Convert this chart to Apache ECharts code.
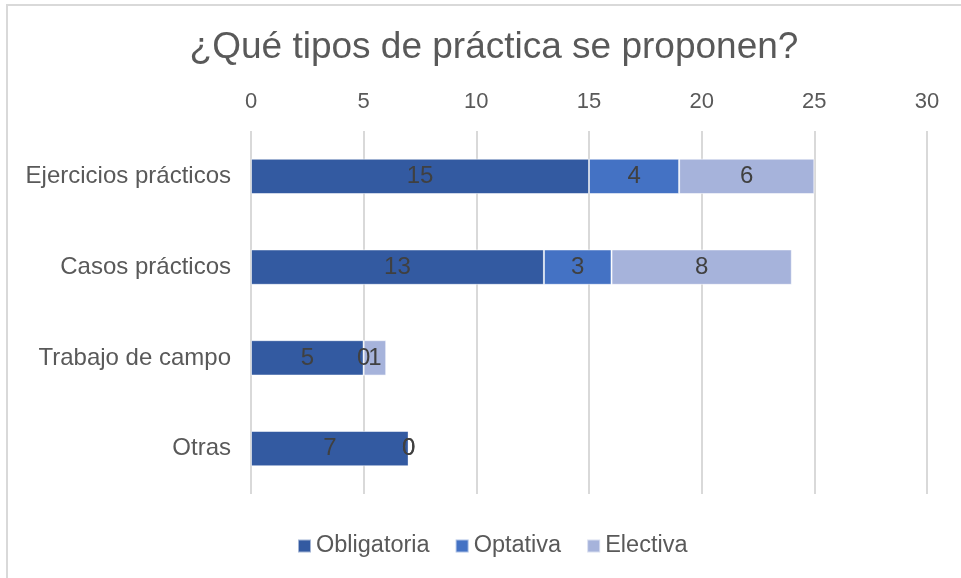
<!DOCTYPE html>
<html>
<head>
<meta charset="utf-8">
<script src="https://cdn.jsdelivr.net/npm/echarts@6/dist/echarts.min.js"></script>
<style>
  html, body { margin: 0; padding: 0; background: #fff; }
  #frame {
    position: absolute; left: 6px; top: 4px; width: 961px; height: 580px;
    border-left: 2px solid #d9d9d9; border-top: 2px solid #d9d9d9;
  }
  #chart { position: absolute; left: 0; top: 0; width: 961px; height: 578px; }
</style>
</head>
<body>
<div id="frame"></div>
<div id="chart"></div>
<script>
// datos
const categories = ['Ejercicios prácticos', 'Casos prácticos', 'Trabajo de campo', 'Otras']
const obligatoria = [15, 13, 5, 7]
const optativa = [4, 3, 0, 0]
const electiva = [6, 8, 1, 0]
const xTicks = [0, 5, 10, 15, 20, 25, 30]

const font = 'Liberation Sans, Arial, sans-serif'

function barSeries(name, data, color) {
  return {
    name: name,
    type: 'bar',
    stack: 'total',
    data: data,
    barWidth: '39%',
    itemStyle: {
      color: color,
      borderColor: 'rgba(255,255,255,0.55)',
      borderWidth: 1
    },
    label: {
      show: true,
      position: 'inside',
      fontSize: 24,
      fontFamily: font,
      color: '#404040'
    }
  }
}

const chart = echarts.init(document.getElementById('chart'))
chart.setOption({
  animation: false,
  title: {
    text: '¿Qué tipos de práctica se proponen?',
    left: 489,
    textAlign: 'center',
    top: 24,
    textStyle: {
      fontSize: 37,
      fontWeight: 'normal',
      fontFamily: font,
      color: '#595959'
    }
  },
  legend: {
    bottom: 15,
    left: 292,
    itemWidth: 13,
    itemHeight: 13,
    itemGap: 25,
    itemTextGap: 5,
    icon: 'rect',
    textStyle: {
      fontSize: 23.5,
      fontFamily: font,
      color: '#595959'
    },
    data: ['Obligatoria', 'Optativa', 'Electiva']
  },
  grid: {
    left: 251,
    right: 34,
    top: 131,
    height: 363,
    containLabel: false
  },
  xAxis: {
    type: 'value',
    position: 'top',
    min: xTicks[0],
    max: xTicks[xTicks.length - 1],
    interval: 5,
    axisLine: { show: false },
    axisTick: { show: false },
    axisLabel: {
      fontSize: 22,
      fontFamily: font,
      color: '#595959',
      margin: 18
    },
    splitLine: {
      lineStyle: { color: '#d9d9d9', width: 2 }
    }
  },
  yAxis: {
    type: 'category',
    inverse: true,
    data: categories,
    axisLine: { show: false },
    axisTick: { show: false },
    axisLabel: {
      fontSize: 24,
      fontFamily: font,
      color: '#595959',
      margin: 20
    }
  },
  series: [
    barSeries('Obligatoria', obligatoria, '#335aa1'),
    barSeries('Optativa', optativa, '#4472c4'),
    barSeries('Electiva', electiva, '#a6b3db')
  ]
})
</script>
</body>
</html>
